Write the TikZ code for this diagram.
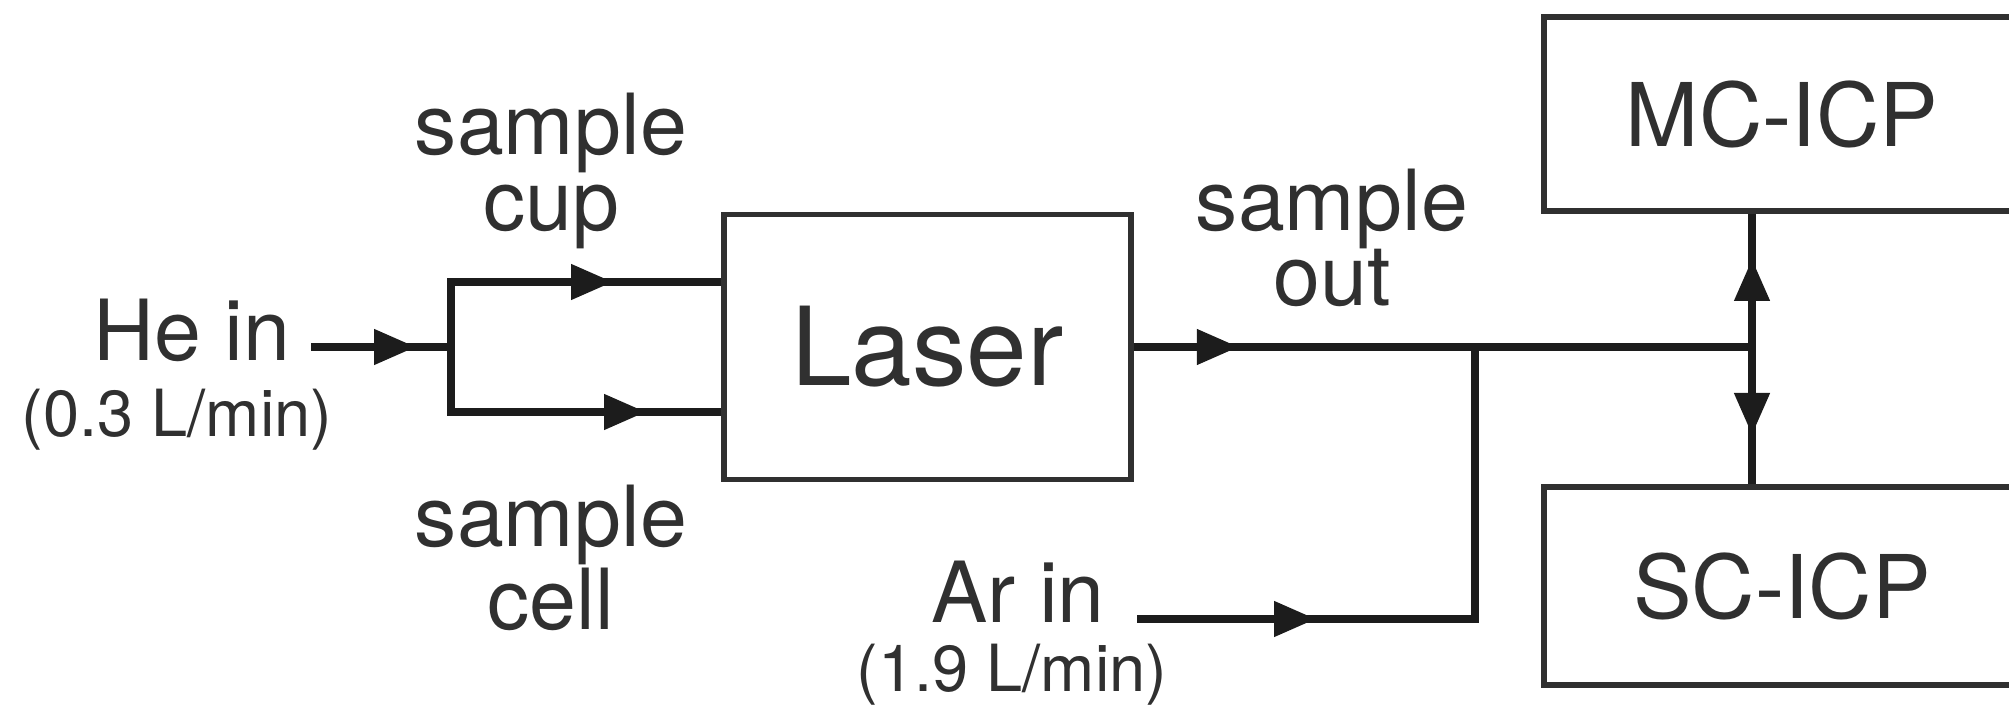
\documentclass[tikz,border=0pt]{standalone}
\usepackage{fontspec}
\setmainfont{TeX Gyre Heros}
\usetikzlibrary{arrows.meta, decorations.markings}

\definecolor{gristexto}{HTML}{303030}
\definecolor{grislinea}{HTML}{1C1C1C}

\tikzset{
  caja/.style={draw=gristexto, line width=1.6pt, text=gristexto, inner sep=0pt},
  flujo/.style={draw=grislinea, line width=2.2pt},
  flecha/.style={postaction={decorate, decoration={markings,
      mark=at position #1 with {\arrow{Triangle[length=0.42cm,width=0.34cm]}}}}},
  etiq/.style={text=gristexto, align=center, inner sep=0pt,
      font=\fontsize{24}{21.5}\selectfont},
  caudal/.style={text=gristexto, inner sep=0pt, font=\fontsize{18.5}{20}\selectfont}
}

\begin{document}
\begin{tikzpicture}
        \useasboundingbox (0,0) rectangle (20.09,7.13);
        % Cajas
        \node[caja, minimum width=4.07cm, minimum height=2.65cm,
              font=\fontsize{31}{31}\selectfont] (laser) at (9.275,3.66) {Laser};
        \node[caja, minimum width=4.76cm, minimum height=1.94cm,
              font=\fontsize{25}{25}\selectfont] (mc) at (17.82,5.99) {MC-ICP};
        \node[caja, minimum width=4.76cm, minimum height=1.98cm,
              font=\fontsize{25}{25}\selectfont] (sc) at (17.82,1.27) {SC-ICP};
        % Textos
        \node[etiq] (he) at (1.92,3.83) {He in};
        \node[caudal] (hecaudal) at (1.77,2.93) {(0.3 L/min)};
        \node[etiq] (cup) at (5.51,5.42) {sample\\cup};
        \node[etiq] (cell) at (5.51,1.55) {sample\\cell};
        \node[etiq] (out) at (13.32,4.75) {sample\\out};
        \node[etiq] (ar) at (10.18,1.21) {Ar in};
        \node[caudal] (arcaudal) at (10.12,0.38) {(1.9 L/min)};
        % Puntos de union
        \coordinate (heini) at (3.11,3.66);
        \coordinate (rama) at (4.51,3.66);
        \coordinate (ramaarr) at (4.51,4.31);
        \coordinate (ramaab) at (4.51,3.01);
        \coordinate (arini) at (11.37,0.94);
        \coordinate (arcodo) at (14.75,0.94);
        \coordinate (union) at (14.75,3.66);
        \coordinate (reparto) at (17.52,3.66);
        % Lineas de gas
        \draw[flujo, flecha=1.05cm] (heini) -- (rama);
        \draw[flujo, line cap=rect] (ramaarr) -- (ramaab);
        \draw[flujo, flecha=1.62cm] (ramaarr) -- (laser.west |- ramaarr);
        \draw[flujo, flecha=1.95cm] (ramaab) -- (laser.west |- ramaab);
        \draw[flujo, flecha=1.05cm] (laser.east) -- (reparto);
        \draw[flujo, flecha=1.79cm] (arini) -- (arcodo) -- (union);
        \draw[flujo, flecha=0.88cm] (reparto) -- (mc.south -| reparto);
        \draw[flujo, flecha=0.88cm] (reparto) -- (sc.north -| reparto);
\end{tikzpicture}
\end{document}
